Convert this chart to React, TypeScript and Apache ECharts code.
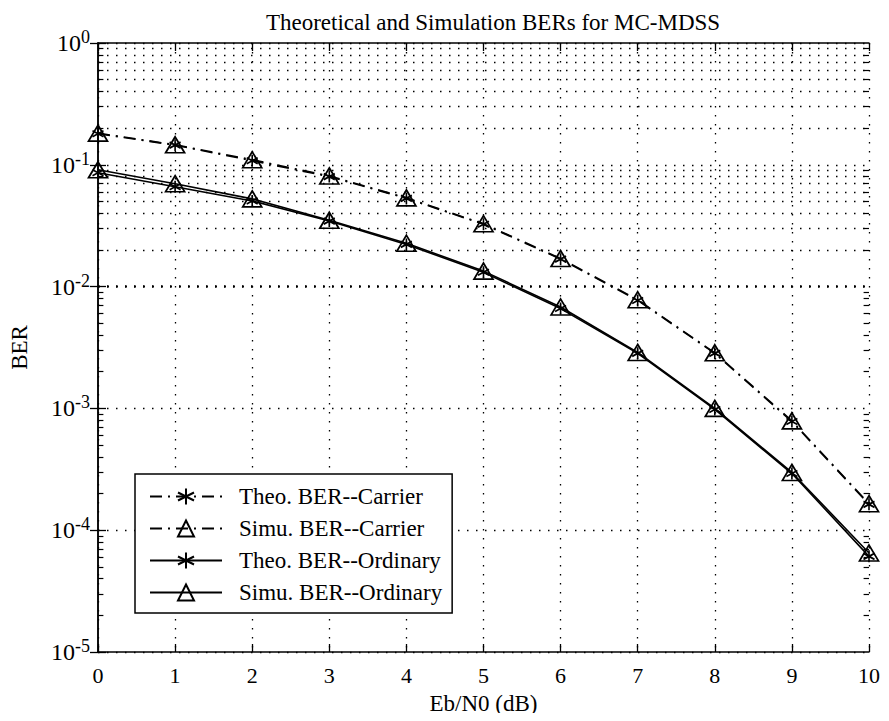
import React, { useEffect, useRef } from "react";
import * as echarts from "echarts";

const snr = [0, 1, 2, 3, 4, 5, 6, 7, 8, 9, 10];
const theoCarrier = [0.180, 0.145, 0.108, 0.080, 0.053, 0.0325, 0.0168, 0.0077, 0.00283, 0.00078, 0.000163];
const simuCarrier = [0.182, 0.146, 0.110, 0.081, 0.0535, 0.0328, 0.0170, 0.0078, 0.00286, 0.00079, 0.000165];
const theoOrdinary = [0.086, 0.066, 0.0505, 0.0345, 0.0222, 0.0131, 0.0066, 0.00283, 0.00098, 0.000292, 0.000061];
const simuOrdinary = [0.091, 0.070, 0.0525, 0.035, 0.0227, 0.0134, 0.0068, 0.00288, 0.001, 0.000298, 0.000065];
const seriesNames = [
  "Theo. BER--Carrier",
  "Simu. BER--Carrier",
  "Theo. BER--Ordinary",
  "Simu. BER--Ordinary",
];
const xTicks = snr;
const yDecades = [-5, -4, -3, -2, -1, 0];

const FONT = "Liberation Serif";
const STAR = "path://M0,-10L0,10M-8.66,-5L8.66,5M-8.66,5L8.66,-5";
const DASHDOT = [12, 6, 2, 6];
const DOTS = [1.5, 7.5];

export default function App() {
  const ref = useRef<HTMLDivElement>(null);
  useEffect(() => {
    if (!ref.current) return;
    const chart = echarts.init(ref.current, undefined, { renderer: "svg" });

    const minorVals: number[] = [];
    for (const d of yDecades.slice(0, -1)) {
      for (let k = 2; k <= 9; k++) minorVals.push(k * Math.pow(10, d));
    }
    const minorGrid = minorVals.map((v) => ({ yAxis: v }));
    const xMin = xTicks[0];
    const xMax = xTicks[xTicks.length - 1];
    const tickLen = (xMax - xMin) * 0.007;
    const minorTicks: any[] = [];
    for (const v of minorVals) {
      minorTicks.push([{ coord: [xMin, v] }, { coord: [xMin + tickLen, v] }]);
      minorTicks.push([{ coord: [xMax - tickLen, v] }, { coord: [xMax, v] }]);
    }

    const mk = (name: string, vals: number[], star: boolean, dashed: boolean) => ({
      name,
      type: "line",
      data: snr.map((x, i) => [x, vals[i]]),
      symbol: star ? STAR : "triangle",
      symbolSize: star ? [11, 12] : [19, 16],
      showAllSymbol: true,
      lineStyle: { color: "#000", width: 1.6, type: dashed ? DASHDOT : "solid" },
      itemStyle: {
        color: "rgba(255,255,255,0)",
        borderColor: "#000",
        borderWidth: 1.7,
      },
      z: 5,
    });

    chart.setOption({
      animation: false,
      backgroundColor: "#fff",
      title: {
        text: "Theoretical and Simulation BERs for MC-MDSS",
        left: 488,
        textAlign: "center",
        top: 6,
        textStyle: { fontFamily: FONT, fontSize: 23, fontWeight: "normal", color: "#000" },
      },
      legend: {
        data: seriesNames,
        orient: "vertical",
        left: 135,
        top: 474,
        itemWidth: 72,
        itemHeight: 20,
        itemGap: 9,
        padding: [11, 10, 9, 14],
        borderColor: "#000",
        borderWidth: 1.5,
        backgroundColor: "#fff",
        textStyle: { fontFamily: FONT, fontSize: 23, lineHeight: 20, color: "#000", padding: [0, 0, 0, 12] },
        z: 10,
      },
      grid: { left: 95, right: 20, top: 43, bottom: 69, containLabel: false },
      xAxis: [
        {
          type: "value",
          min: xMin,
          max: xMax,
          interval: 1,
          name: "Eb/N0 (dB)",
          nameLocation: "middle",
          nameGap: 40,
          nameTextStyle: { fontFamily: FONT, fontSize: 23, color: "#000" },
          axisLine: { lineStyle: { color: "#000", width: 1.5 } },
          axisTick: { inside: true, length: 8, lineStyle: { color: "#000", width: 1.3 } },
          axisLabel: { fontFamily: FONT, fontSize: 22, color: "#000", margin: 12 },
          splitLine: { show: true, lineStyle: { color: "#000", type: DOTS, width: 1.3 } },
        },
        {
          type: "value",
          position: "top",
          min: xMin,
          max: xMax,
          interval: 1,
          axisLine: { lineStyle: { color: "#000", width: 1.5 } },
          axisTick: { inside: true, length: 8, lineStyle: { color: "#000", width: 1.3 } },
          axisLabel: { show: false },
          splitLine: { show: false },
        },
      ],
      yAxis: [
        {
          type: "log",
          logBase: 10,
          min: 1e-5,
          max: 1,
          name: "BER",
          nameLocation: "middle",
          nameGap: 67,
          nameRotate: 90,
          nameTextStyle: { fontFamily: FONT, fontSize: 23, color: "#000" },
          axisLine: { lineStyle: { color: "#000", width: 1.5 } },
          axisTick: { inside: true, length: 8, lineStyle: { color: "#000", width: 1.3 } },
          axisLabel: {
            margin: 8,
            formatter: (v: number) => `{b|10}{s|${Math.round(Math.log10(v))}}`,
            rich: {
              b: { fontFamily: FONT, fontSize: 24, color: "#000", lineHeight: 30 },
              s: { fontFamily: FONT, fontSize: 18, color: "#000", verticalAlign: "top", lineHeight: 16, padding: [0, 0, 14, 0] },
            },
          },
          splitLine: { show: true, lineStyle: { color: "#000", type: DOTS, width: 1.3 } },
        },
        {
          type: "log",
          logBase: 10,
          min: 1e-5,
          max: 1,
          position: "right",
          axisLine: { lineStyle: { color: "#000", width: 1.5 } },
          axisTick: { inside: true, length: 8, lineStyle: { color: "#000", width: 1.3 } },
          axisLabel: { show: false },
          splitLine: { show: false },
        },
      ],
      series: [
        {
          name: "grid",
          type: "line",
          data: [],
          silent: true,
          z: 1,
          markLine: {
            silent: true,
            symbol: ["none", "none"],
            label: { show: false },
            lineStyle: { color: "#000", type: DOTS, width: 1.3 },
            data: minorGrid,
            animation: false,
          },
        },
        {
          name: "ticks",
          type: "line",
          data: [],
          silent: true,
          z: 2,
          markLine: {
            silent: true,
            symbol: ["none", "none"],
            label: { show: false },
            lineStyle: { color: "#000", type: "solid", width: 1.2 },
            data: minorTicks,
            animation: false,
          },
        },
        mk(seriesNames[0], theoCarrier, true, true),
        mk(seriesNames[1], simuCarrier, false, true),
        mk(seriesNames[2], theoOrdinary, true, false),
        mk(seriesNames[3], simuOrdinary, false, false),
      ],
    });
    return () => chart.dispose();
  }, []);
  return <div ref={ref} style={{ width: 889, height: 721, margin: -8 }} />;
}
